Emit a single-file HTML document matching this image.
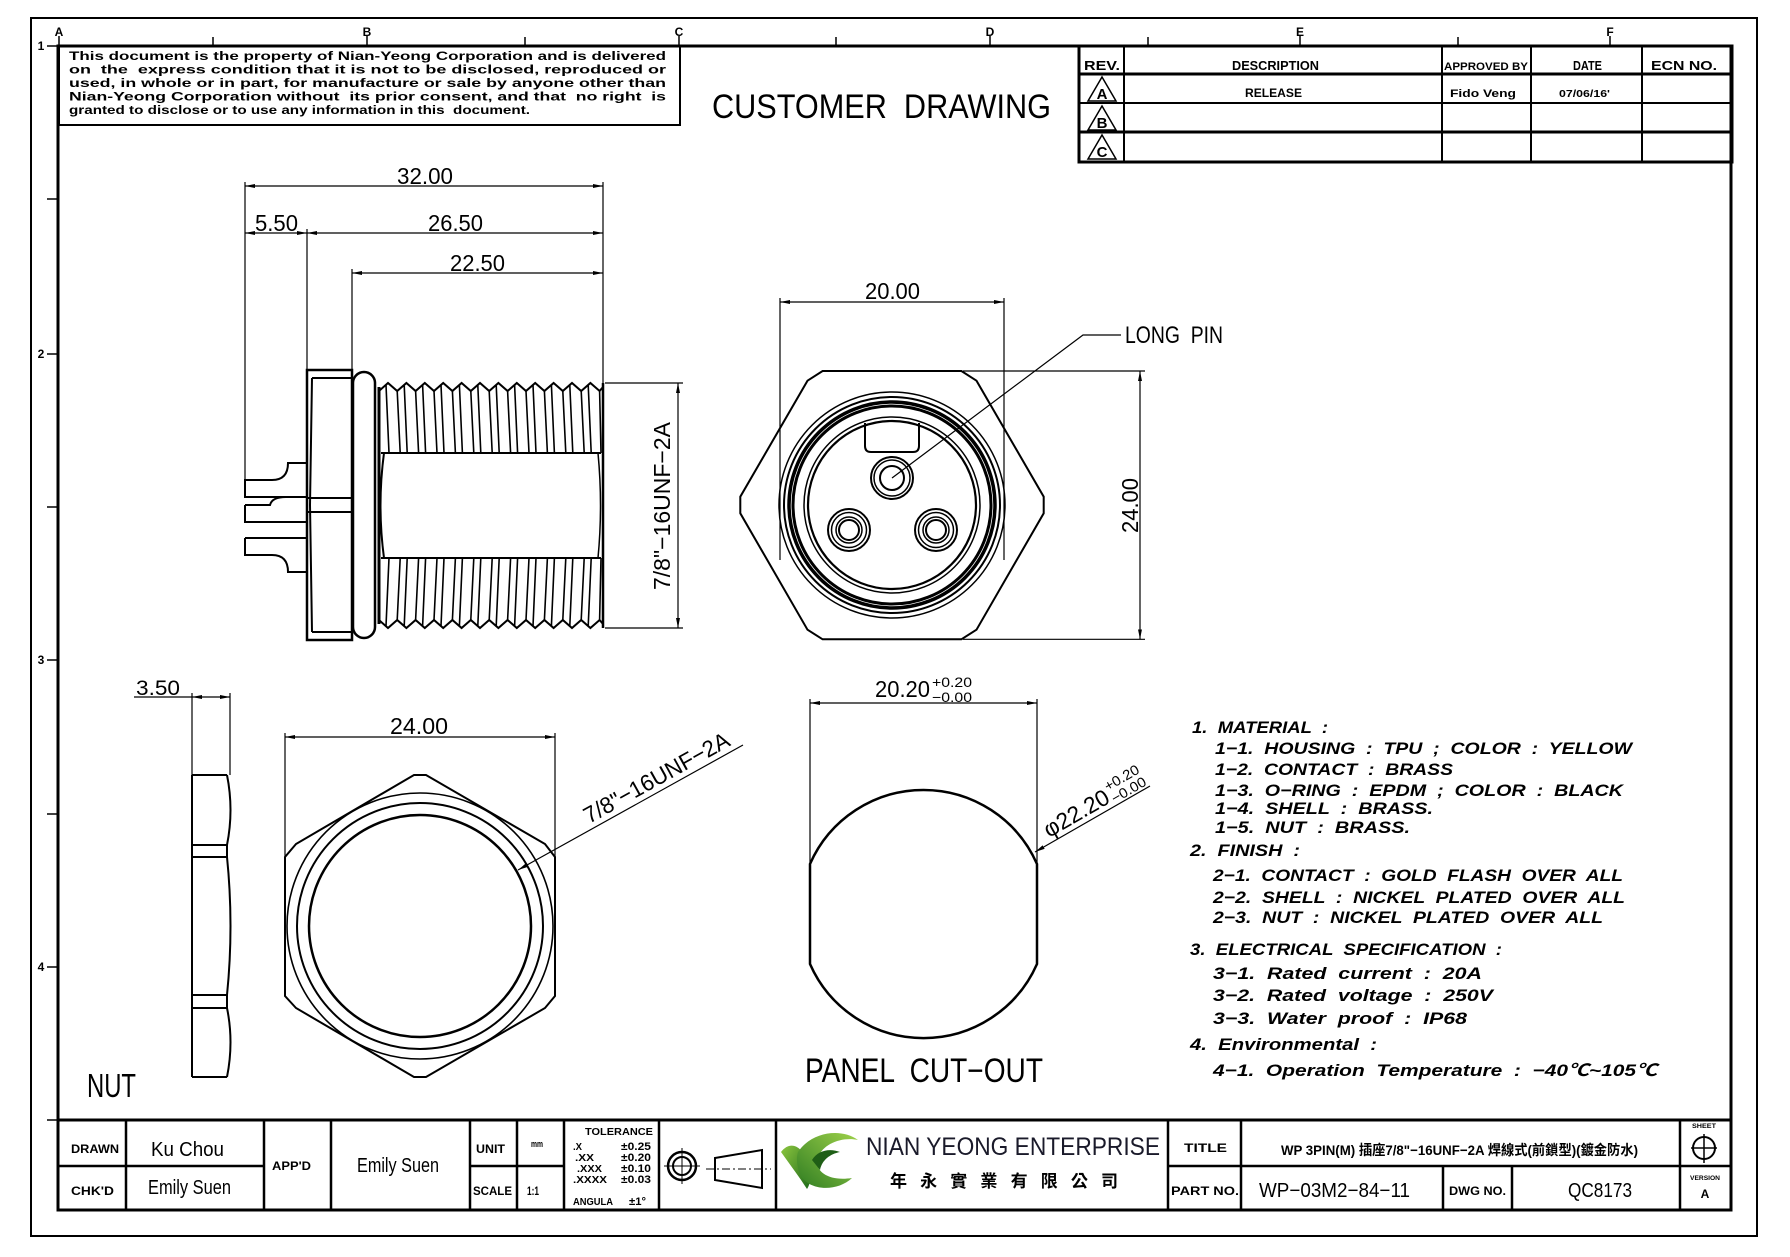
<!DOCTYPE html>
<html><head><meta charset="utf-8"><style>
html,body{margin:0;padding:0;background:#fff;}
svg{display:block;}
text{font-family:"Liberation Sans","Noto Sans CJK TC",sans-serif;fill:#000;white-space:pre;}
.b{font-weight:bold;}
.d{font-size:23px;}
.n{font-weight:bold;font-style:italic;font-size:17px;}
.ln{fill:none;stroke:#000;}
</style></head><body>
<svg width="1790" height="1257" viewBox="0 0 1790 1257" xmlns="http://www.w3.org/2000/svg">
<defs>
<marker id="ar" viewBox="0 0 10 4" refX="10" refY="2" markerWidth="10" markerHeight="4" markerUnits="userSpaceOnUse" orient="auto-start-reverse"><path d="M0,0L10,2L0,4z" fill="#000"/></marker>
<linearGradient id="g1" x1="0" y1="0" x2="1" y2="1"><stop offset="0" stop-color="#8cc63f"/><stop offset="1" stop-color="#1f6b1a"/></linearGradient>
<linearGradient id="g2" x1="0" y1="1" x2="1" y2="0"><stop offset="0" stop-color="#2f7d22"/><stop offset="1" stop-color="#9fd24a"/></linearGradient>
</defs>
<rect width="1790" height="1257" fill="#fff"/>

<!-- frames -->
<rect x="31" y="18" width="1726" height="1218" class="ln" stroke-width="2"/>
<rect x="58" y="46" width="1673" height="1164" class="ln" stroke-width="3"/>

<!-- top zone marks -->
<g stroke="#000" stroke-width="1.5">
<line x1="213" y1="37" x2="213" y2="46"/><line x1="525" y1="37" x2="525" y2="46"/><line x1="836" y1="37" x2="836" y2="46"/><line x1="1148" y1="37" x2="1148" y2="46"/><line x1="1458" y1="37" x2="1458" y2="46"/>
<line x1="59" y1="36" x2="59" y2="46"/><line x1="367" y1="36" x2="367" y2="46"/><line x1="679" y1="36" x2="679" y2="46"/><line x1="990" y1="36" x2="990" y2="46"/><line x1="1300" y1="36" x2="1300" y2="46"/><line x1="1610" y1="36" x2="1610" y2="46"/>
</g>
<g class="b" font-size="12" text-anchor="middle">
<text x="59" y="36">A</text><text x="367" y="36">B</text><text x="679" y="36">C</text><text x="990" y="36">D</text><text x="1300" y="36">E</text><text x="1610" y="36">F</text>
</g>
<!-- left zone marks -->
<g stroke="#000" stroke-width="1.5">
<line x1="47" y1="46" x2="58" y2="46"/><line x1="47" y1="199" x2="58" y2="199"/><line x1="47" y1="354" x2="58" y2="354"/><line x1="47" y1="507" x2="58" y2="507"/><line x1="47" y1="660" x2="58" y2="660"/><line x1="47" y1="814" x2="58" y2="814"/><line x1="47" y1="967" x2="58" y2="967"/><line x1="47" y1="1120" x2="58" y2="1120"/>
</g>
<g class="b" font-size="12" text-anchor="middle">
<text x="41" y="50">1</text><text x="41" y="358">2</text><text x="41" y="664">3</text><text x="41" y="971">4</text>
</g>

<!-- disclaimer box -->
<rect x="59" y="46" width="621" height="79" class="ln" stroke-width="2"/>
<g class="b" font-size="12">
<text x="69" y="60" textLength="597" lengthAdjust="spacingAndGlyphs">This document is the property of Nian-Yeong Corporation and is delivered</text>
<text x="69" y="73.5" textLength="597" lengthAdjust="spacingAndGlyphs">on  the  express condition that it is not to be disclosed, reproduced or</text>
<text x="69" y="87" textLength="597" lengthAdjust="spacingAndGlyphs">used, in whole or in part, for manufacture or sale by anyone other than</text>
<text x="69" y="100.5" textLength="597" lengthAdjust="spacingAndGlyphs">Nian-Yeong Corporation without  its prior consent, and that  no right  is</text>
<text x="69" y="114" textLength="461" lengthAdjust="spacingAndGlyphs">granted to disclose or to use any information in this  document.</text>
</g>

<text x="712" y="118" font-size="34" textLength="339" lengthAdjust="spacingAndGlyphs">CUSTOMER  DRAWING</text>

<!-- revision table -->
<rect x="1079" y="46" width="653" height="116" class="ln" stroke-width="3"/>
<g stroke="#000">
<line x1="1079" y1="74" x2="1732" y2="74" stroke-width="3"/>
<line x1="1079" y1="103" x2="1732" y2="103" stroke-width="2"/>
<line x1="1079" y1="132" x2="1732" y2="132" stroke-width="3"/>
<line x1="1124" y1="46" x2="1124" y2="162" stroke-width="2"/>
<line x1="1442" y1="46" x2="1442" y2="162" stroke-width="2"/>
<line x1="1531" y1="46" x2="1531" y2="162" stroke-width="2"/>
<line x1="1642" y1="46" x2="1642" y2="162" stroke-width="2"/>
</g>
<g class="b" font-size="13">
<text x="1084" y="70" textLength="36" lengthAdjust="spacingAndGlyphs">REV.</text>
<text x="1232" y="70" textLength="87" lengthAdjust="spacingAndGlyphs">DESCRIPTION</text>
<text x="1444" y="70" textLength="84" lengthAdjust="spacingAndGlyphs" font-size="11">APPROVED BY</text>
<text x="1573" y="70" textLength="29" lengthAdjust="spacingAndGlyphs">DATE</text>
<text x="1651" y="70" textLength="66" lengthAdjust="spacingAndGlyphs">ECN NO.</text>
<text x="1245" y="97" textLength="57" lengthAdjust="spacingAndGlyphs" font-size="12">RELEASE</text>
<text x="1450" y="97" textLength="66" lengthAdjust="spacingAndGlyphs" font-size="11">Fido Veng</text>
<text x="1559" y="97" textLength="51" lengthAdjust="spacingAndGlyphs" font-size="10">07/06/16'</text>
</g>
<g class="ln" stroke-width="1.5">
<path d="M1102,77 L1088,101 L1116,101 Z"/>
<path d="M1102,106 L1088,130 L1116,130 Z"/>
<path d="M1102,135 L1088,159 L1116,159 Z"/>
</g>
<g class="b" font-size="15" text-anchor="middle">
<text x="1102" y="99">A</text><text x="1102" y="128">B</text><text x="1102" y="157">C</text>
</g>

<!-- ===== SIDE VIEW ===== -->
<g stroke="#000" stroke-width="1.2" fill="none">
<line x1="245" y1="182" x2="245" y2="480"/>
<line x1="603" y1="182" x2="603" y2="383"/>
<line x1="307" y1="229" x2="307" y2="370"/>
<line x1="352" y1="269" x2="352" y2="370"/>
<line x1="245" y1="186" x2="603" y2="186" marker-start="url(#ar)" marker-end="url(#ar)"/>
<line x1="245" y1="233" x2="307" y2="233" marker-start="url(#ar)" marker-end="url(#ar)"/>
<line x1="307" y1="233" x2="603" y2="233" marker-start="url(#ar)" marker-end="url(#ar)"/>
<line x1="352" y1="273" x2="603" y2="273" marker-start="url(#ar)" marker-end="url(#ar)"/>
<line x1="605" y1="383" x2="683" y2="383"/>
<line x1="605" y1="628" x2="683" y2="628"/>
<line x1="678" y1="383" x2="678" y2="628" marker-start="url(#ar)" marker-end="url(#ar)"/>
</g>
<g class="d">
<text x="397" y="184" textLength="56" lengthAdjust="spacingAndGlyphs">32.00</text>
<text x="255" y="231" textLength="43" lengthAdjust="spacingAndGlyphs">5.50</text>
<text x="428" y="231" textLength="55" lengthAdjust="spacingAndGlyphs">26.50</text>
<text x="450" y="271" textLength="55" lengthAdjust="spacingAndGlyphs">22.50</text>
<text transform="translate(670,506) rotate(-90)" text-anchor="middle" textLength="168" lengthAdjust="spacingAndGlyphs">7/8"−16UNF−2A</text>
</g>
<!-- flange -->
<g stroke="#000" fill="none">
<rect x="307" y="370" width="45" height="270" stroke-width="2.5"/>
<path d="M312,378 L310,505 L312,632" stroke-width="2"/>
<line x1="312" y1="378" x2="352" y2="378" stroke-width="2"/>
<line x1="312" y1="632" x2="352" y2="632" stroke-width="2"/>
<line x1="307" y1="498" x2="352" y2="498" stroke-width="2"/>
<line x1="307" y1="512" x2="352" y2="512" stroke-width="2"/>
<rect x="353" y="372" width="22" height="266" rx="11" ry="11" stroke-width="2.5"/>
<!-- pins -->
<path d="M307,463 H288 Q288,480 272,480 H245 V497 H307" stroke-width="2"/>
<path d="M245,505 H270 Q272,497 286,497 M245,505 V522 H307" stroke-width="2"/>
<path d="M245,538 H307 M245,538 V555 H272 Q288,555 288,572 H307" stroke-width="2"/>
<!-- thread body -->
<line x1="379" y1="387" x2="379" y2="624" stroke-width="3"/>
<line x1="603" y1="383" x2="603" y2="628" stroke-width="2.5"/>
<path d="M379,391 L388,383 L397.2,391 L406.4,383 L415.6,391 L424.8,383 L434,391 L443.2,383 L452.4,391 L461.6,383 L470.8,391 L480,383 L489.2,391 L498.4,383 L507.6,391 L516.8,383 L526,391 L535.2,383 L544.4,391 L553.6,383 L562.8,391 L572,383 L581.2,391 L590.4,383 L599.6,391 L603,387" stroke-width="2"/>
<path d="M379,620 L388,628 L397.2,620 L406.4,628 L415.6,620 L424.8,628 L434,620 L443.2,628 L452.4,620 L461.6,628 L470.8,620 L480,628 L489.2,620 L498.4,628 L507.6,620 L516.8,628 L526,620 L535.2,628 L544.4,620 L553.6,628 L562.8,620 L572,628 L581.2,620 L590.4,628 L599.6,620 L603,624" stroke-width="2"/>
<line x1="381" y1="453" x2="601" y2="453" stroke-width="2"/>
<line x1="381" y1="558" x2="601" y2="558" stroke-width="2"/>
<path d="M384,453 Q377,505.5 384,558" stroke-width="2"/>
<path d="M598,453 Q603,505.5 598,558" stroke-width="1.5"/>
<path stroke-width="1.6" d="M386,385L389,453 M397.2,391L400.2,453 M404.2,385L407.2,453 M415.6,391L418.6,453 M422.6,385L425.6,453 M434,391L437,453 M441,385L444,453 M452.4,391L455.4,453 M459.4,385L462.4,453 M470.8,391L473.8,453 M477.8,385L480.8,453 M489.2,391L492.2,453 M496.2,385L499.2,453 M507.6,391L510.6,453 M514.6,385L517.6,453 M526,391L529,453 M533,385L536,453 M544.4,391L547.4,453 M551.4,385L554.4,453 M562.8,391L565.8,453 M569.8,385L572.8,453 M581.2,391L584.2,453 M588.2,385L591.2,453 M599.6,391L601,453"/>
<path stroke-width="1.6" d="M386,626L389,558 M397.2,620L400.2,558 M404.2,626L407.2,558 M415.6,620L418.6,558 M422.6,626L425.6,558 M434,620L437,558 M441,626L444,558 M452.4,620L455.4,558 M459.4,626L462.4,558 M470.8,620L473.8,558 M477.8,626L480.8,558 M489.2,620L492.2,558 M496.2,626L499.2,558 M507.6,620L510.6,558 M514.6,626L517.6,558 M526,620L529,558 M533,626L536,558 M544.4,620L547.4,558 M551.4,626L554.4,558 M562.8,620L565.8,558 M569.8,626L572.8,558 M581.2,620L584.2,558 M588.2,626L591.2,558 M599.6,620L601,558"/>
</g>

<!-- ===== FRONT VIEW ===== -->
<g stroke="#000" stroke-width="1.2" fill="none">
<line x1="780" y1="298" x2="780" y2="560"/>
<line x1="1004" y1="298" x2="1004" y2="560"/>
<line x1="780" y1="302" x2="1004" y2="302" marker-start="url(#ar)" marker-end="url(#ar)"/>
<line x1="963" y1="371" x2="1145" y2="371"/>
<line x1="963" y1="639.3" x2="1145" y2="639.3"/>
<line x1="1140" y1="371" x2="1140" y2="639.3" marker-start="url(#ar)" marker-end="url(#ar)"/>
<polyline points="892,478 1083,335 1121,335"/>
</g>
<g class="d">
<text x="865" y="299" textLength="55" lengthAdjust="spacingAndGlyphs">20.00</text>
<text transform="translate(1138,505.5) rotate(-90)" text-anchor="middle" textLength="55" lengthAdjust="spacingAndGlyphs">24.00</text>
</g>
<text x="1125" y="343" font-size="24" textLength="98" lengthAdjust="spacingAndGlyphs">LONG  PIN</text>
<g stroke="#000" fill="none">
<polygon points="822.6,371 961.4,371 976.5,380.7 1043.7,496.7 1043.7,513.3 976.5,629.7 961.4,639.3 822.6,639.3 807.5,629.7 740.3,513.3 740.3,496.7 807.5,380.7" stroke-width="2"/>
<circle cx="892" cy="505" r="113" stroke-width="1.5"/>
<circle cx="892" cy="505" r="108" stroke-width="2"/>
<circle cx="892" cy="505" r="103" stroke-width="3.5"/>
<circle cx="892" cy="505" r="99" stroke-width="3"/>
<circle cx="892" cy="505" r="88" stroke-width="1.5"/>
<circle cx="892" cy="505" r="84" stroke-width="2.2"/>
<path d="M865,423 V446 Q865,452 871,452 H913 Q919,452 919,446 V423" stroke-width="2"/>
<circle cx="892" cy="478" r="21" stroke-width="2"/>
<circle cx="892" cy="478" r="18" stroke-width="1.5"/>
<circle cx="892" cy="478" r="12" stroke-width="2"/>
<circle cx="849" cy="530" r="21" stroke-width="2"/>
<circle cx="849" cy="530" r="17.5" stroke-width="1.5"/>
<circle cx="849" cy="530" r="13" stroke-width="1.5"/>
<circle cx="849" cy="530" r="10" stroke-width="2"/>
<circle cx="936" cy="530" r="21" stroke-width="2"/>
<circle cx="936" cy="530" r="17.5" stroke-width="1.5"/>
<circle cx="936" cy="530" r="13" stroke-width="1.5"/>
<circle cx="936" cy="530" r="10" stroke-width="2"/>
</g>

<!-- ===== NUT ===== -->
<g stroke="#000" fill="none">
<line x1="134" y1="697" x2="192" y2="697" stroke-width="1.2"/>
<line x1="192" y1="697" x2="230" y2="697" stroke-width="1.2" marker-start="url(#ar)" marker-end="url(#ar)"/>
<line x1="192" y1="693" x2="192" y2="775" stroke-width="1.2"/>
<line x1="230" y1="693" x2="230" y2="775" stroke-width="1.2"/>
<line x1="192" y1="775" x2="192" y2="1077" stroke-width="2"/>
<path d="M227,775 Q234,810 227,845 L227,857 Q234,926 227,995 L227,1008 Q234,1042 227,1077" stroke-width="2"/>
<path d="M192,775H227 M192,845H227 M192,857H227 M192,995H227 M192,1008H227 M192,1077H227" stroke-width="2"/>
<line x1="285" y1="733" x2="285" y2="857" stroke-width="1.2"/>
<line x1="555" y1="733" x2="555" y2="857" stroke-width="1.2"/>
<line x1="285" y1="737" x2="555" y2="737" stroke-width="1.2" marker-start="url(#ar)" marker-end="url(#ar)"/>
<path d="M414,775 L426,775 L545,844 L555,857 L555,996 L545,1008 L426,1077 L414,1077 L296,1008 L285,996 L285,857 L296,844 Z" stroke-width="2"/>
<circle cx="420" cy="926" r="133" stroke-width="1.6"/>
<circle cx="420" cy="926" r="123" stroke-width="2"/>
<circle cx="420" cy="926" r="111" stroke-width="2.5"/>
<line x1="518" y1="870" x2="743" y2="745" stroke-width="1.2" marker-start="url(#ar)"/>
</g>
<g class="d">
<text x="136" y="695" font-size="21" textLength="44" lengthAdjust="spacingAndGlyphs">3.50</text>
<text x="390" y="734" textLength="58" lengthAdjust="spacingAndGlyphs">24.00</text>
<text transform="translate(589,824) rotate(-29)" textLength="163" lengthAdjust="spacingAndGlyphs">7/8"−16UNF−2A</text>
</g>
<text x="87" y="1097" font-size="33" textLength="49" lengthAdjust="spacingAndGlyphs">NUT</text>

<!-- ===== PANEL CUT-OUT ===== -->
<g stroke="#000" fill="none">
<line x1="810" y1="699" x2="810" y2="864" stroke-width="1.2"/>
<line x1="1037" y1="699" x2="1037" y2="864" stroke-width="1.2"/>
<line x1="810" y1="703" x2="1037" y2="703" stroke-width="1.2" marker-start="url(#ar)" marker-end="url(#ar)"/>
<path d="M810,864 A124,124 0 0 1 1037,864 L1037,964 A124,124 0 0 1 810,964 Z" stroke-width="2.5"/>
<line x1="1035" y1="852" x2="1150" y2="786" stroke-width="1.2" marker-start="url(#ar)"/>
</g>
<g class="d">
<text x="875" y="697" textLength="55" lengthAdjust="spacingAndGlyphs">20.20</text>
<text x="932" y="687" font-size="14" textLength="40" lengthAdjust="spacingAndGlyphs">+0.20</text>
<text x="932" y="702" font-size="14" textLength="40" lengthAdjust="spacingAndGlyphs">−0.00</text>
<g transform="translate(1049,838) rotate(-30)">
<text x="0" y="0" textLength="72" lengthAdjust="spacingAndGlyphs">φ22.20</text>
<text x="74" y="-11" font-size="14" textLength="38" lengthAdjust="spacingAndGlyphs">+0.20</text>
<text x="74" y="3" font-size="14" textLength="38" lengthAdjust="spacingAndGlyphs">−0.00</text>
</g>
</g>
<text x="805" y="1082" font-size="34" textLength="238" lengthAdjust="spacingAndGlyphs">PANEL  CUT−OUT</text>

<!-- ===== NOTES ===== -->
<g class="n">
<text x="1192" y="733" textLength="136" lengthAdjust="spacingAndGlyphs">1.  MATERIAL  :</text>
<text x="1215" y="754" textLength="417" lengthAdjust="spacingAndGlyphs">1−1.  HOUSING  :  TPU  ;  COLOR  :  YELLOW</text>
<text x="1215" y="775" textLength="238" lengthAdjust="spacingAndGlyphs">1−2.  CONTACT  :  BRASS</text>
<text x="1215" y="796" textLength="408" lengthAdjust="spacingAndGlyphs">1−3.  O−RING  :  EPDM  ;  COLOR  :  BLACK</text>
<text x="1215" y="814" textLength="218" lengthAdjust="spacingAndGlyphs">1−4.  SHELL  :  BRASS.</text>
<text x="1215" y="833" textLength="195" lengthAdjust="spacingAndGlyphs">1−5.  NUT  :  BRASS.</text>
<text x="1190" y="856" textLength="110" lengthAdjust="spacingAndGlyphs">2.  FINISH  :</text>
<text x="1213" y="881" textLength="410" lengthAdjust="spacingAndGlyphs">2−1.  CONTACT  :  GOLD  FLASH  OVER  ALL</text>
<text x="1213" y="903" textLength="412" lengthAdjust="spacingAndGlyphs">2−2.  SHELL  :  NICKEL  PLATED  OVER  ALL</text>
<text x="1213" y="923" textLength="390" lengthAdjust="spacingAndGlyphs">2−3.  NUT  :  NICKEL  PLATED  OVER  ALL</text>
<text x="1190" y="955" textLength="312" lengthAdjust="spacingAndGlyphs">3.  ELECTRICAL  SPECIFICATION  :</text>
<text x="1213" y="979" textLength="269" lengthAdjust="spacingAndGlyphs">3−1.  Rated  current  :  20A</text>
<text x="1213" y="1001" textLength="280" lengthAdjust="spacingAndGlyphs">3−2.  Rated  voltage  :  250V</text>
<text x="1213" y="1024" textLength="254" lengthAdjust="spacingAndGlyphs">3−3.  Water  proof  :  IP68</text>
<text x="1190" y="1050" textLength="187" lengthAdjust="spacingAndGlyphs">4.  Environmental  :</text>
<text x="1213" y="1076" textLength="444" lengthAdjust="spacingAndGlyphs">4−1.  Operation  Temperature  :  −40℃~105℃</text>
</g>

<!-- ===== TITLE BLOCK ===== -->
<g stroke="#000">
<line x1="58" y1="1120" x2="1731" y2="1120" stroke-width="3"/>
<line x1="58" y1="1166" x2="264" y2="1166" stroke-width="2.5"/>
<line x1="470" y1="1166" x2="564" y2="1166" stroke-width="2.5"/>
<line x1="1168" y1="1166" x2="1731" y2="1166" stroke-width="2.5"/>
<g stroke-width="2.5">
<line x1="126" y1="1120" x2="126" y2="1210"/><line x1="264" y1="1120" x2="264" y2="1210"/><line x1="331" y1="1120" x2="331" y2="1210"/><line x1="470" y1="1120" x2="470" y2="1210"/><line x1="517" y1="1120" x2="517" y2="1210"/><line x1="564" y1="1120" x2="564" y2="1210"/><line x1="659" y1="1120" x2="659" y2="1210"/><line x1="776" y1="1120" x2="776" y2="1210"/><line x1="1168" y1="1120" x2="1168" y2="1210"/><line x1="1241" y1="1120" x2="1241" y2="1210"/><line x1="1443" y1="1166" x2="1443" y2="1210"/><line x1="1512" y1="1166" x2="1512" y2="1210"/><line x1="1680" y1="1120" x2="1680" y2="1210"/>
</g>
</g>
<g class="b" font-size="12">
<text x="71" y="1153" textLength="48" lengthAdjust="spacingAndGlyphs">DRAWN</text>
<text x="71" y="1195" textLength="43" lengthAdjust="spacingAndGlyphs">CHK'D</text>
<text x="272" y="1170" textLength="39" lengthAdjust="spacingAndGlyphs">APP'D</text>
<text x="476" y="1153" textLength="29" lengthAdjust="spacingAndGlyphs">UNIT</text>
<text x="531" y="1147" font-size="9" textLength="12" lengthAdjust="spacingAndGlyphs">mm</text>
<text x="473" y="1195" textLength="39" lengthAdjust="spacingAndGlyphs">SCALE</text>
<text x="527" y="1195" textLength="12" lengthAdjust="spacingAndGlyphs">1:1</text>
<text x="585" y="1135" font-size="10" textLength="68" lengthAdjust="spacingAndGlyphs">TOLERANCE</text>
<text x="573" y="1150" font-size="10" textLength="9" lengthAdjust="spacingAndGlyphs">.X</text>
<text x="575" y="1161" font-size="10" textLength="19" lengthAdjust="spacingAndGlyphs">.XX</text>
<text x="577" y="1172" font-size="10" textLength="25" lengthAdjust="spacingAndGlyphs">.XXX</text>
<text x="573" y="1183" font-size="10" textLength="34" lengthAdjust="spacingAndGlyphs">.XXXX</text>
<text x="573" y="1205" font-size="10" textLength="40" lengthAdjust="spacingAndGlyphs">ANGULA</text>
<text x="621" y="1150" font-size="11" textLength="30" lengthAdjust="spacingAndGlyphs">±0.25</text>
<text x="621" y="1161" font-size="11" textLength="30" lengthAdjust="spacingAndGlyphs">±0.20</text>
<text x="621" y="1172" font-size="11" textLength="30" lengthAdjust="spacingAndGlyphs">±0.10</text>
<text x="621" y="1183" font-size="11" textLength="30" lengthAdjust="spacingAndGlyphs">±0.03</text>
<text x="629" y="1205" font-size="11" textLength="17" lengthAdjust="spacingAndGlyphs">±1°</text>
<text x="1184" y="1152" textLength="43" lengthAdjust="spacingAndGlyphs">TITLE</text>
<text x="1171" y="1195" textLength="68" lengthAdjust="spacingAndGlyphs">PART NO.</text>
<text x="1449" y="1195" textLength="57" lengthAdjust="spacingAndGlyphs">DWG NO.</text>
<text x="1281" y="1155" font-size="14" textLength="357" lengthAdjust="spacingAndGlyphs">WP 3PIN(M) 插座7/8"−16UNF−2A 焊線式(前鎖型)(鍍金防水)</text>
<text x="1704" y="1128" font-size="6" text-anchor="middle" textLength="24" lengthAdjust="spacingAndGlyphs">SHEET</text>
<text x="1705" y="1180" font-size="6" text-anchor="middle" textLength="30" lengthAdjust="spacingAndGlyphs">VERSION</text>
<text x="1705" y="1198" font-size="12" text-anchor="middle">A</text>
</g>
<g font-size="20">
<text x="151" y="1156" textLength="73" lengthAdjust="spacingAndGlyphs">Ku Chou</text>
<text x="148" y="1194" textLength="83" lengthAdjust="spacingAndGlyphs">Emily Suen</text>
<text x="357" y="1172" textLength="82" lengthAdjust="spacingAndGlyphs">Emily Suen</text>
<text x="1259" y="1197" textLength="151" lengthAdjust="spacingAndGlyphs">WP−03M2−84−11</text>
<text x="1568" y="1197" textLength="64" lengthAdjust="spacingAndGlyphs">QC8173</text>
</g>
<!-- symbols -->
<g stroke="#000" fill="none">
<circle cx="682" cy="1166" r="14" stroke-width="2.5"/>
<circle cx="682" cy="1166" r="9" stroke-width="2"/>
<line x1="664" y1="1166" x2="700" y2="1166" stroke-width="1"/>
<line x1="682" y1="1148" x2="682" y2="1184" stroke-width="1"/>
<polygon points="715,1158 762,1150 762,1188 715,1180" stroke-width="2"/>
<line x1="706" y1="1169" x2="771" y2="1169" stroke-width="1" stroke-dasharray="8 3 2 3"/>
<circle cx="1704" cy="1148" r="11" stroke-width="2"/>
<line x1="1691" y1="1148" x2="1717" y2="1148" stroke-width="1.5"/>
<line x1="1704" y1="1134" x2="1704" y2="1163" stroke-width="1.5"/>
</g>
<!-- logo -->
<path d="M781,1152 C790,1140 802,1146 806,1160 C810,1172 812,1182 807,1189 C800,1178 791,1166 781,1152 Z" fill="url(#g1)"/>
<path d="M798,1152 C812,1131 842,1128 858,1140 C844,1137 826,1142 819,1155 C812,1169 826,1182 852,1178 C836,1193 806,1191 799,1172 C797,1165 796,1158 798,1152 Z" fill="url(#g2)"/>
<path d="M812,1160 C818,1150 830,1148 840,1152 C830,1154 822,1160 820,1170 Z" fill="#1f5e16"/>
<text x="866" y="1155" font-size="25" textLength="294" lengthAdjust="spacingAndGlyphs" style="fill:#1a1a2a">NIAN YEONG ENTERPRISE</text>
<text x="890" y="1187" font-size="17" class="b" textLength="228" lengthAdjust="spacing">年永實業有限公司</text>
</svg>
</body></html>
